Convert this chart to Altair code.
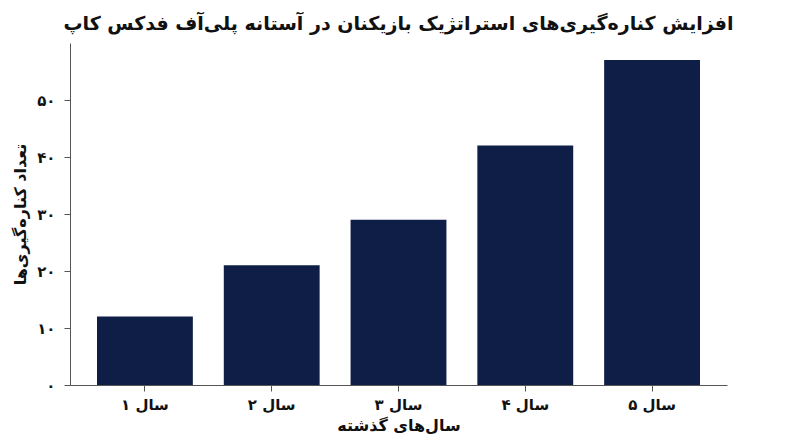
import altair as alt
import pandas as pd

categories = ["سال ۱", "سال ۲", "سال ۳", "سال ۴", "سال ۵"]
values = [12, 21, 29, 42, 57]
tick_values = [0, 10, 20, 30, 40, 50]
tick_labels = ["۰", "۱۰", "۲۰", "۳۰", "۴۰", "۵۰"]

title = "افزایش کناره‌گیری‌های استراتژیک بازیکنان در آستانه پلی‌آف فدکس کاپ"
x_title = "سال‌های گذشته"
y_title = "تعداد کناره‌گیری‌ها"

df = pd.DataFrame({"cat": categories, "val": values})

expr = "''"
for v, l in reversed(list(zip(tick_values, tick_labels))):
    expr = f"datum.value == {v} ? '{l}' : ({expr})"

FONT = "DejaVu Sans"

chart = (
    alt.Chart(df)
    .mark_bar(color="#0f1e47")
    .encode(
        x=alt.X(
            "cat:N",
            sort=categories,
            title=x_title,
            scale=alt.Scale(paddingInner=0.244, paddingOuter=0.213),
            axis=alt.Axis(
                labelAngle=0,
                labelFontSize=15,
                labelFontWeight="bold",
                labelColor="#111",
                titleFontSize=16,
                titleFontWeight="bold",
                titleColor="#111",
                titlePadding=5,
                labelPadding=6,
                tickSize=6,
                domainColor="#555",
                tickColor="#555",
            ),
        ),
        y=alt.Y(
            "val:Q",
            title=y_title,
            scale=alt.Scale(domain=[0, 60], nice=False),
            axis=alt.Axis(
                values=tick_values,
                labelExpr=expr,
                grid=False,
                labelFontSize=15,
                labelFontWeight="bold",
                labelColor="#111",
                titleFontSize=16,
                titleFontWeight="bold",
                titleColor="#111",
                titlePadding=8,
                labelPadding=9,
                tickSize=6,
                domainColor="#555",
                tickColor="#555",
            ),
        ),
    )
    .properties(
        width=657,
        height=342,
        title=alt.TitleParams(
            title, fontSize=19, fontWeight="bold", color="#111", anchor="middle", offset=9
        ),
        autosize=alt.AutoSizeParams(type="none"),
        padding={"left": 62, "top": 35, "right": 65, "bottom": 54},
    )
    .configure(font=FONT)
    .configure_view(stroke=None)
)

chart.save("out.html", embed_options={"renderer": "svg", "actions": False})
